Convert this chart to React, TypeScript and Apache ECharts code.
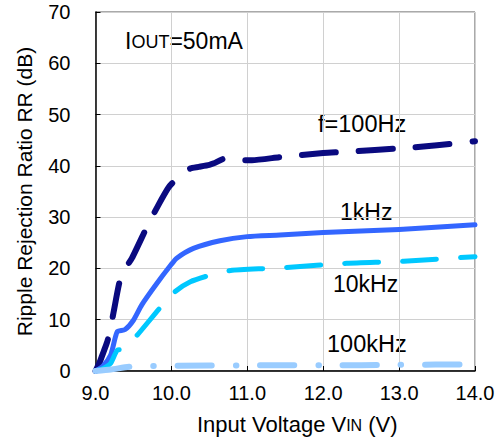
import React, { useEffect, useRef } from "react";
import * as echarts from "echarts";

const xTicks = [9, 10, 11, 12, 13, 14];
const yTicks = [0, 10, 20, 30, 40, 50, 60, 70];

const f100Hz: [number, number][] = [
  [9.0, 0], [9.05, 1.5], [9.09, 3.1], [9.15, 5.5], [9.19, 7.7], [9.24, 11.6],
  [9.34, 18.7], [9.48, 22.0], [9.7, 28.8], [9.83, 32.4], [9.95, 35.5], [10.01, 36.6],
  [10.12, 37.9], [10.25, 39.5], [10.36, 39.8], [10.5, 40.2], [10.56, 40.5], [10.7, 41.4],
  [10.82, 41.1], [11.06, 41.1], [11.43, 41.7], [12.0, 42.5], [12.36, 42.8], [13.0, 43.4],
  [13.5, 44.0], [14.0, 44.8],
];
const f1kHz: [number, number][] = [
  [9.0, 0], [9.1, 1.0], [9.2, 3.1], [9.26, 6.5], [9.29, 7.7], [9.39, 8.1], [9.5, 9.9],
  [9.61, 12.9], [9.81, 17.1], [10.0, 20.8], [10.07, 22.0], [10.29, 23.9], [10.64, 25.4],
  [11.0, 26.2], [11.43, 26.5], [12.0, 27.0], [13.0, 27.6], [14.0, 28.5],
];
const f10kHz: [number, number][] = [
  [9.0, 0], [9.1, 0.5], [9.2, 1.5], [9.29, 4.1], [9.37, 4.2], [9.55, 7.0], [9.86, 12.5],
  [10.05, 15.5], [10.25, 17.4], [10.49, 18.6], [10.78, 19.6], [11.26, 20.0], [11.52, 20.2],
  [12.31, 21.0], [13.06, 21.4], [14.0, 22.3],
];
const f100kHz: [number, number][] = [
  [9.0, 0], [9.2, 0.3], [9.5, 0.9], [10.0, 1.0], [11.0, 1.1], [12.0, 1.1], [13.0, 1.2], [14.0, 1.3],
];

const FONT = "Liberation Sans, Arial, sans-serif";

export default function App() {
  const ref = useRef<HTMLDivElement>(null);
  useEffect(() => {
    if (!ref.current) return;
    const chart = echarts.init(ref.current, null, { renderer: "svg" });
    const mk = (name: string, data: [number, number][], color: string, width: number, type: any) => ({
      name,
      type: "line",
      data,
      showSymbol: false,
      symbol: "none",
      smooth: 0.2,
      lineStyle: { color, width, type, cap: "round", join: "round" },
    });
    chart.setOption({
      animation: false,
      backgroundColor: "#ffffff",
      textStyle: { fontFamily: FONT },
      grid: {
        left: 95.5, right: 28, top: 12, bottom: 70,
        show: true, borderColor: "#555555", borderWidth: 1,
      },
      xAxis: {
        type: "value", min: 9, max: 14, interval: 1,
        name: "{a|Input Voltage V}{b|IN}{a| (V)}",
        nameLocation: "middle", nameGap: 40,
        nameTextStyle: {
          padding: [0, 0, 0, 24],
          rich: {
            a: { fontSize: 22, color: "#000", fontFamily: FONT, verticalAlign: "bottom", lineHeight: 24 },
            b: { fontSize: 16, color: "#000", fontFamily: FONT, verticalAlign: "bottom", lineHeight: 24, padding: [0, 0, 2, 0] },
          },
        },
        axisLine: { show: true, lineStyle: { color: "#000", width: 1.5 } },
        axisTick: { show: true, inside: true, length: 5, lineStyle: { color: "#000" } },
        axisLabel: {
          margin: 12, fontSize: 20, color: "#000", fontFamily: FONT,
          formatter: (v: number) => (xTicks.includes(v) ? v.toFixed(1) : ""),
        },
        splitLine: { show: true, lineStyle: { color: "#d0d0d0", width: 1 } },
      },
      yAxis: {
        type: "value", min: 0, max: 70, interval: 10,
        name: "Ripple Rejection Ratio RR (dB)",
        nameLocation: "middle", nameGap: 61,
        nameTextStyle: { fontSize: 21, color: "#000", fontFamily: FONT },
        axisLine: { show: true, lineStyle: { color: "#000", width: 1.5 } },
        axisTick: { show: true, inside: true, length: 5, lineStyle: { color: "#000" } },
        axisLabel: {
          margin: 25, fontSize: 20, color: "#000", fontFamily: FONT,
          formatter: (v: number) => (yTicks.includes(v) ? String(v) : ""),
        },
        splitLine: { show: true, lineStyle: { color: "#d0d0d0", width: 1 } },
      },
      series: [
        mk("f=100Hz", f100Hz, "#0a0a80", 6, [34, 23]),
        mk("1kHz", f1kHz, "#3366ff", 5, "solid"),
        mk("10kHz", f10kHz, "#00c8ff", 5, [34, 24]),
        mk("100kHz", f100kHz, "#99ccff", 6, [34, 24, 0.5, 24]),
      ],
      graphic: [
        {
          type: "text", left: 125, top: 29,
          style: {
            text: "{a|I}{b|OUT}{a|=50mA}",
            rich: {
              a: { fontSize: 23, fill: "#000", fontFamily: FONT, verticalAlign: "bottom", lineHeight: 26 },
              b: { fontSize: 18, fill: "#000", fontFamily: FONT, verticalAlign: "bottom", lineHeight: 26, padding: [0, 0, 1, 0] },
            },
          },
        },
        { type: "text", left: 318, top: 112, style: { text: "f=100Hz", fontSize: 23.5, fill: "#000", fontFamily: FONT } },
        { type: "text", left: 340, top: 200, style: { text: "1kHz", fontSize: 23, fill: "#000", fontFamily: FONT } },
        { type: "text", left: 333, top: 272, style: { text: "10kHz", fontSize: 23, fill: "#000", fontFamily: FONT } },
        { type: "text", left: 327, top: 332, style: { text: "100kHz", fontSize: 23.5, fill: "#000", fontFamily: FONT } },
      ],
    });
    return () => chart.dispose();
  }, []);
  return <div ref={ref} style={{ width: 503, height: 441, position: "absolute", left: 0, top: 0 }} />;
}
